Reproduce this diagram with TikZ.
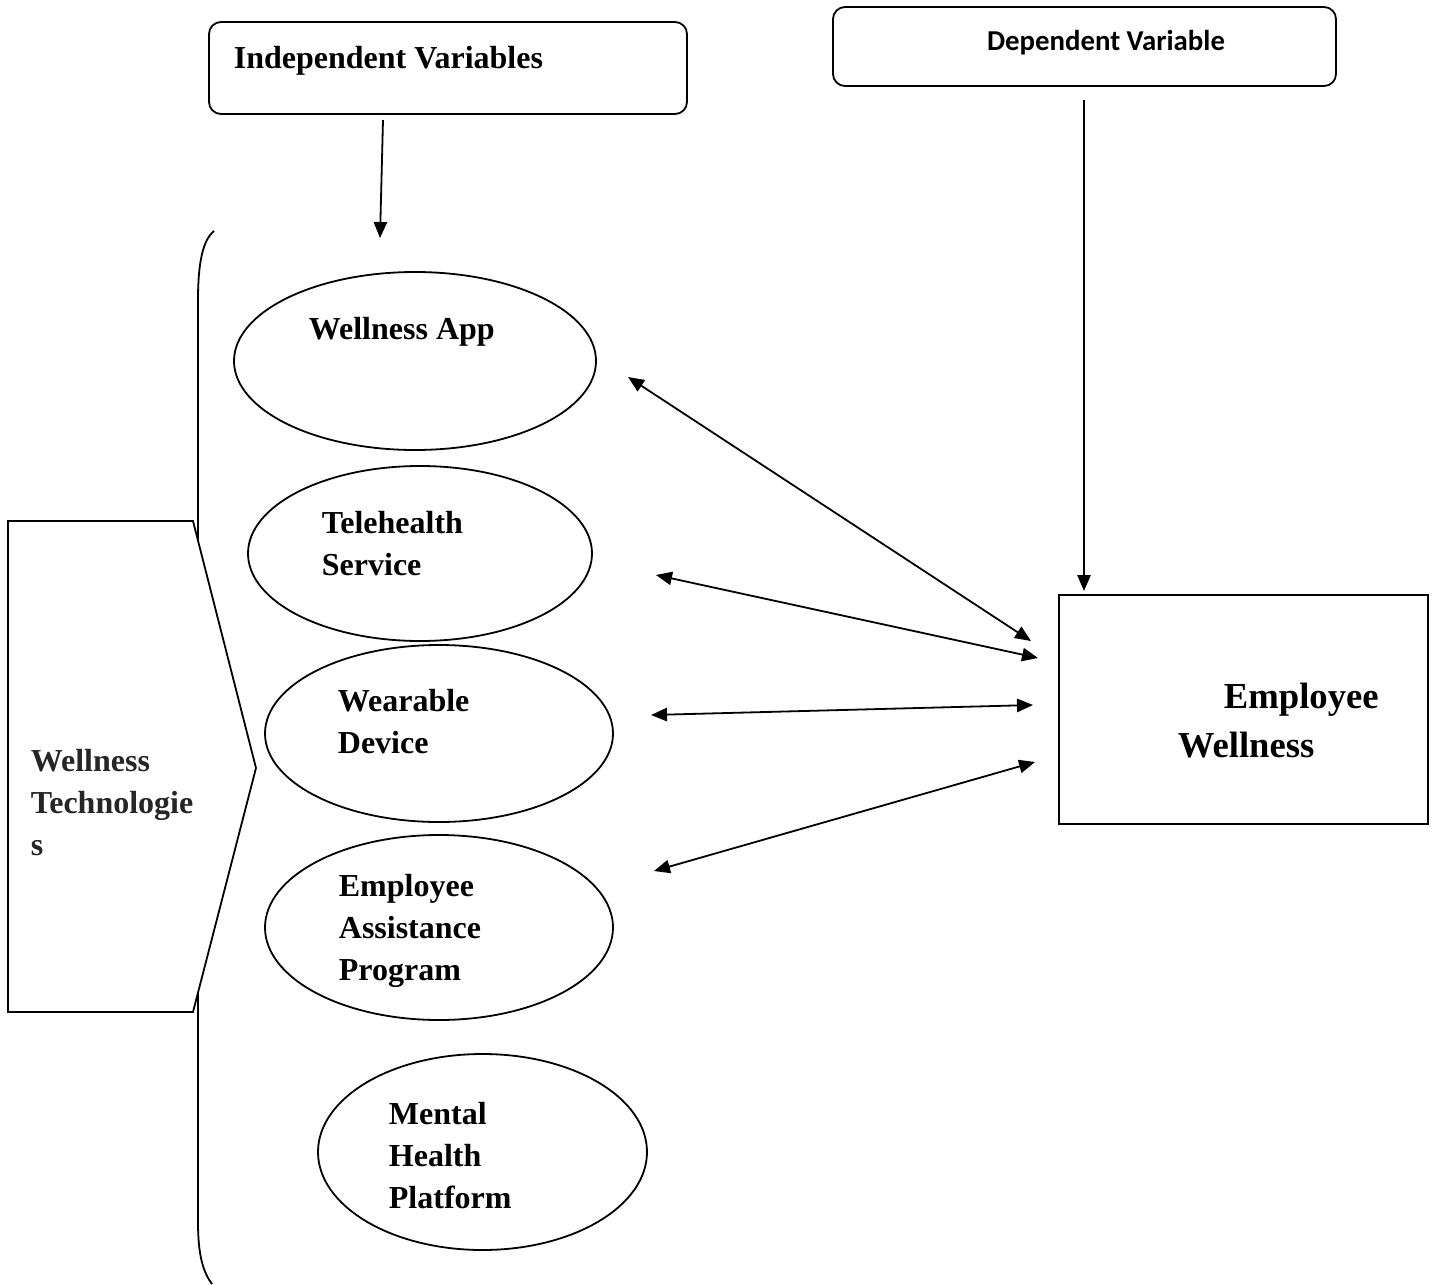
\documentclass[tikz,border=0pt]{standalone}
\usepackage{fontspec}
\setmainfont{Liberation Serif}
\newfontfamily\calfont{Carlito}
\usetikzlibrary{shapes.geometric,arrows.meta}
\begin{document}
\begin{tikzpicture}[x=0.75pt,y=-0.75pt,
  line width=1.35pt,
  lbl/.style={font=\bfseries\fontsize{24}{31.5}\selectfont, inner sep=0pt, anchor=base west, align=left},
  oval/.style={draw, ellipse, inner sep=0pt, outer sep=0pt},
  tip/.style={-{Triangle[length=12pt,width=10pt]}},
  dtip/.style={{Triangle[length=12pt,width=10pt]}-{Triangle[length=12pt,width=10pt]}},
  rbox/.style={draw, rounded corners=9pt, inner sep=0pt, outer sep=0pt},
  sbox/.style={draw, inner sep=0pt, outer sep=0pt}]
\useasboundingbox (0,0) rectangle (1432,1285);
\fill[white] (0,0) rectangle (1432,1285);

% header boxes
\node[rbox, minimum width=358.5pt, minimum height=69pt] (indep) at (448,68) {};
\node[lbl] (indeptxt) at (233,68) {Independent Variables};
\node[rbox, minimum width=377.25pt, minimum height=59.25pt] (dep) at (1084.5,46.5) {};
\node[font=\calfont\bfseries\fontsize{21.6}{26}\selectfont, inner sep=0pt, anchor=base] (deptxt) at (1106,50) {Dependent Variable};

% bracket
\draw (214,231) .. controls (203,240) and (198,262) .. (198,300) -- (198,1222) .. controls (198,1255) and (203,1272) .. (212,1284);

% pentagon
\draw[fill=white] (8,521) -- (193,521) -- (256,768) -- (193,1012) -- (8,1012) -- cycle;
\node[lbl, text=black!85] (wt) at (30,855) {Wellness\\Technologie\\s};

% ellipses
\node[oval, minimum width=271.5pt, minimum height=133.5pt] (app) at (415,361) {};
\node[lbl] (apptxt) at (308,339) {Wellness App};
\node[oval, minimum width=258pt, minimum height=131.25pt] (tele) at (420,553.5) {};
\node[lbl] (teletxt) at (321,575) {Telehealth\\Service};
\node[oval, minimum width=261pt, minimum height=132.75pt] (wear) at (439,733.5) {};
\node[lbl] (weartxt) at (337,753) {Wearable\\Device};
\node[oval, minimum width=261pt, minimum height=138.75pt] (eap) at (439,927.5) {};
\node[lbl] (eaptxt) at (338,980) {Employee\\Assistance\\Program};
\node[oval, minimum width=246.75pt, minimum height=147pt] (mhp) at (482.5,1152) {};
\node[lbl] (mhptxt) at (388,1208) {Mental\\Health\\Platform};

% outcome box
\node[sbox, minimum width=276.75pt, minimum height=171.75pt] (emp) at (1243.5,709.5) {};
\node[font=\bfseries\fontsize{27.5}{36}\selectfont, inner sep=0pt, anchor=base west] (emptxt1) at (1223,708) {Employee};
\node[font=\bfseries\fontsize{27.5}{36}\selectfont, inner sep=0pt, anchor=base west] (emptxt2) at (1177,757) {Wellness};

% connector end points
\coordinate (i1) at (383,120);
\coordinate (i2) at (380,238);
\coordinate (d1) at (1084,100);
\coordinate (d2) at (1084,591);
\coordinate (a1s) at (628,377);
\coordinate (a1e) at (1031,641);
\coordinate (a2s) at (656,575);
\coordinate (a2e) at (1038,658);
\coordinate (a3s) at (651,715);
\coordinate (a3e) at (1033,705);
\coordinate (a4s) at (654,871);
\coordinate (a4e) at (1035,762);

\draw[tip] (i1) -- (i2);
\draw[tip] (d1) -- (d2);
\draw[dtip] (a1s) -- (a1e);
\draw[dtip] (a2s) -- (a2e);
\draw[dtip] (a3s) -- (a3e);
\draw[dtip] (a4s) -- (a4e);
\end{tikzpicture}
\end{document}
